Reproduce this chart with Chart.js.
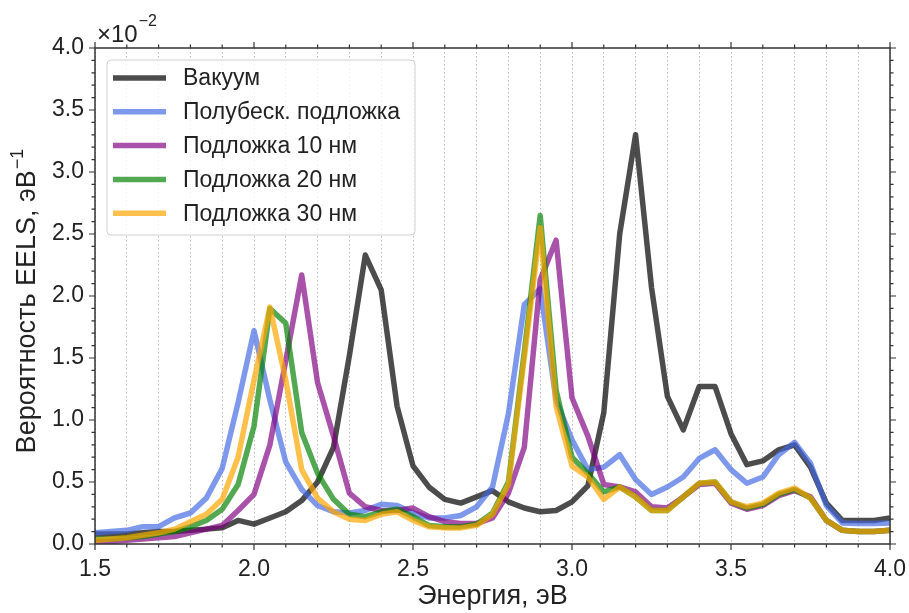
<!DOCTYPE html>
<html>
<head>
<meta charset="utf-8">
<script src="https://cdn.jsdelivr.net/npm/chart.js@4.4.1/dist/chart.umd.min.js"></script>
<style>
  html, body { margin: 0; padding: 0; background: #fff; }
</style>
</head>
<body>
<canvas id="eelsChart" width="909" height="613"></canvas>
<script>
// energy axis, eV
const energy = [1.50, 1.55, 1.60, 1.65, 1.70, 1.75, 1.80, 1.85, 1.90, 1.95,
                2.00, 2.05, 2.10, 2.15, 2.20, 2.25, 2.30, 2.35, 2.40, 2.45,
                2.50, 2.55, 2.60, 2.65, 2.70, 2.75, 2.80, 2.85, 2.90, 2.95,
                3.00, 3.05, 3.10, 3.15, 3.20, 3.25, 3.30, 3.35, 3.40, 3.45,
                3.50, 3.55, 3.60, 3.65, 3.70, 3.75, 3.80, 3.85, 3.90, 3.95, 4.00];

// EELS probability, x1e-2 1/eV
const vacuum = [0.08, 0.08, 0.08, 0.09, 0.10, 0.10, 0.11, 0.12, 0.13, 0.19,
                0.16, 0.21, 0.26, 0.35, 0.50, 0.78, 1.52, 2.33, 2.05, 1.11,
                0.63, 0.46, 0.36, 0.33, 0.38, 0.43, 0.34, 0.29, 0.26, 0.27,
                0.34, 0.47, 1.06, 2.50, 3.30, 2.07, 1.19, 0.92, 1.27, 1.27,
                0.89, 0.64, 0.67, 0.76, 0.80, 0.62, 0.33, 0.19, 0.19, 0.19, 0.21];
const semiInf = [0.09, 0.10, 0.11, 0.14, 0.14, 0.21, 0.25, 0.37, 0.61, 1.14,
                 1.72, 1.16, 0.66, 0.44, 0.31, 0.26, 0.25, 0.27, 0.32, 0.31,
                 0.25, 0.21, 0.21, 0.23, 0.30, 0.46, 1.05, 1.93, 2.06, 1.16,
                 0.84, 0.60, 0.62, 0.72, 0.52, 0.40, 0.46, 0.54, 0.69, 0.76,
                 0.60, 0.49, 0.54, 0.72, 0.82, 0.65, 0.31, 0.17, 0.165, 0.165, 0.17];
const sub10 = [0.02, 0.02, 0.03, 0.04, 0.05, 0.06, 0.09, 0.12, 0.15, 0.27,
               0.40, 0.80, 1.48, 2.17, 1.30, 0.87, 0.41, 0.30, 0.27, 0.27,
               0.29, 0.22, 0.18, 0.165, 0.165, 0.21, 0.41, 0.78, 2.13, 2.45,
               1.18, 0.87, 0.48, 0.46, 0.42, 0.30, 0.29, 0.38, 0.48, 0.49,
               0.33, 0.28, 0.31, 0.39, 0.43, 0.38, 0.19, 0.11, 0.10, 0.10, 0.11];
const sub20 = [0.04, 0.04, 0.05, 0.06, 0.08, 0.10, 0.14, 0.19, 0.28, 0.48,
               0.95, 1.90, 1.78, 0.90, 0.57, 0.36, 0.24, 0.22, 0.26, 0.28,
               0.22, 0.15, 0.14, 0.14, 0.16, 0.25, 0.50, 1.55, 2.65, 1.24,
               0.70, 0.57, 0.42, 0.46, 0.38, 0.27, 0.27, 0.38, 0.49, 0.50,
               0.34, 0.29, 0.32, 0.40, 0.44, 0.37, 0.19, 0.11, 0.10, 0.10, 0.11];
const sub30 = [0.03, 0.04, 0.05, 0.07, 0.09, 0.12, 0.18, 0.24, 0.36, 0.70,
               1.32, 1.91, 1.32, 0.60, 0.37, 0.26, 0.20, 0.19, 0.24, 0.26,
               0.19, 0.14, 0.13, 0.13, 0.15, 0.24, 0.48, 1.50, 2.55, 1.11,
               0.63, 0.54, 0.36, 0.46, 0.38, 0.27, 0.27, 0.38, 0.49, 0.50,
               0.34, 0.30, 0.33, 0.41, 0.45, 0.37, 0.19, 0.11, 0.10, 0.10, 0.11];

const seriesNames = ['Вакуум', 'Полубеск. подложка', 'Подложка 10 нм', 'Подложка 20 нм', 'Подложка 30 нм'];
const seriesColors = ['rgba(0,0,0,0.7)', 'rgba(65,105,225,0.68)', 'rgba(128,0,128,0.68)',
                      'rgba(0,128,0,0.68)', 'rgba(255,165,0,0.7)'];
const seriesValues = [vacuum, semiInf, sub10, sub20, sub30];

const FONT = '"Liberation Sans", Arial, sans-serif';
const TEXT = '#222';

function isMajor(v) {
    return Math.abs(v * 2 - Math.round(v * 2)) < 1e-6;
}

// frame, outward ticks, x10^-2 note, y title and legend
const decorPlugin = {
    id: 'decor',
    afterDraw(chart) {
        const ctx = chart.ctx;
        const a = chart.chartArea;
        const xs = chart.scales.x, ys = chart.scales.y;
        ctx.save();
        ctx.strokeStyle = '#333';
        ctx.lineWidth = 1.5;
        ctx.strokeRect(a.left, a.top, a.right - a.left, a.bottom - a.top);

        ctx.lineWidth = 1.2;
        ctx.beginPath();
        for (let i = 15; i <= 40; i++) {
            let v = i / 10;
            let len = isMajor(v) ? 6 : 3.5;
            let px = xs.getPixelForValue(v);
            ctx.moveTo(px, a.bottom); ctx.lineTo(px, a.bottom + len);
            ctx.moveTo(px, a.top); ctx.lineTo(px, a.top - len);
        }
        for (let i = 0; i <= 40; i++) {
            let v = i / 10;
            let len = isMajor(v) ? 6 : 3.5;
            let py = ys.getPixelForValue(v);
            ctx.moveTo(a.left, py); ctx.lineTo(a.left - len, py);
            ctx.moveTo(a.right, py); ctx.lineTo(a.right + len, py);
        }
        ctx.stroke();

        // multiplier
        ctx.fillStyle = TEXT;
        ctx.textAlign = 'left';
        ctx.textBaseline = 'alphabetic';
        ctx.font = '24px ' + FONT;
        ctx.fillText('×10', 97, 42);
        let w = ctx.measureText('×10').width;
        ctx.font = '16px ' + FONT;
        ctx.fillText('−2', 97 + w + 1, 26);

        // y title
        ctx.save();
        ctx.translate(35, 301);
        ctx.rotate(-Math.PI / 2);
        ctx.font = '27px ' + FONT;
        const main = 'Вероятность EELS, эВ';
        let mw = ctx.measureText(main).width;
        ctx.font = '18px ' + FONT;
        let sw = ctx.measureText('−1').width;
        let start = -(mw + sw + 1) / 2;
        ctx.font = '27px ' + FONT;
        ctx.fillText(main, start, 0);
        ctx.font = '18px ' + FONT;
        ctx.fillText('−1', start + mw + 1, -12);
        ctx.restore();

        // legend
        const lx = 107, ly = 60, lw = 308, lh = 175;
        ctx.beginPath();
        ctx.roundRect(lx, ly, lw, lh, 4);
        ctx.fillStyle = 'rgba(255,255,255,0.8)';
        ctx.fill();
        ctx.strokeStyle = '#d0d0d0';
        ctx.lineWidth = 1;
        ctx.stroke();
        ctx.font = '23px ' + FONT;
        ctx.textBaseline = 'middle';
        chart.data.datasets.forEach((ds, i) => {
            let cy = ly + 18 + i * 33.8;
            ctx.strokeStyle = ds.borderColor;
            ctx.lineWidth = 5.5;
            ctx.beginPath();
            ctx.moveTo(113, cy); ctx.lineTo(166, cy);
            ctx.stroke();
            ctx.fillStyle = TEXT;
            ctx.fillText(ds.label, 183, cy + 1);
        });
        ctx.restore();
    }
};

const datasets = seriesNames.map((name, i) => ({
    label: name,
    data: energy.map((e, j) => ({ x: e, y: seriesValues[i][j] })),
    borderColor: seriesColors[i],
    borderWidth: 5.5,
    borderJoinStyle: 'round',
    pointRadius: 0,
    tension: 0,
    fill: false,
    order: seriesNames.length - i
}));

new Chart(document.getElementById('eelsChart'), {
    type: 'line',
    data: { datasets: datasets },
    plugins: [decorPlugin],
    options: {
        responsive: false,
        animation: false,
        devicePixelRatio: 1,
        layout: { padding: { top: 48, right: 19, left: 0, bottom: 0 } },
        plugins: { legend: { display: false }, tooltip: { enabled: false } },
        scales: {
            x: {
                type: 'linear',
                min: 1.5,
                max: 4.0,
                afterFit: (s) => { s.height = 69; s.paddingLeft = 0; s.paddingRight = 0; },
                ticks: {
                    stepSize: 0.1,
                    autoSkip: false,
                    maxRotation: 0,
                    padding: 12,
                    color: TEXT,
                    font: { family: FONT, size: 23 },
                    callback: (v) => isMajor(v) ? v.toFixed(1) : ''
                },
                grid: { color: '#bdbdbd', lineWidth: 1, drawTicks: false },
                border: { display: false, dash: [1.5, 2.5] },
                title: {
                    display: true,
                    text: 'Энергия, эВ',
                    color: TEXT,
                    font: { family: FONT, size: 27, lineHeight: 1.2 },
                    padding: { top: 0, bottom: 0 }
                }
            },
            y: {
                min: 0,
                max: 4.0,
                afterFit: (s) => { s.width = 95; s.paddingTop = 0; s.paddingBottom = 0; },
                ticks: {
                    stepSize: 0.5,
                    padding: 11,
                    color: TEXT,
                    font: { family: FONT, size: 23 },
                    callback: (v) => v.toFixed(1)
                },
                grid: { display: false, drawTicks: false },
                border: { display: false }
            }
        }
    }
});
</script>
</body>
</html>
